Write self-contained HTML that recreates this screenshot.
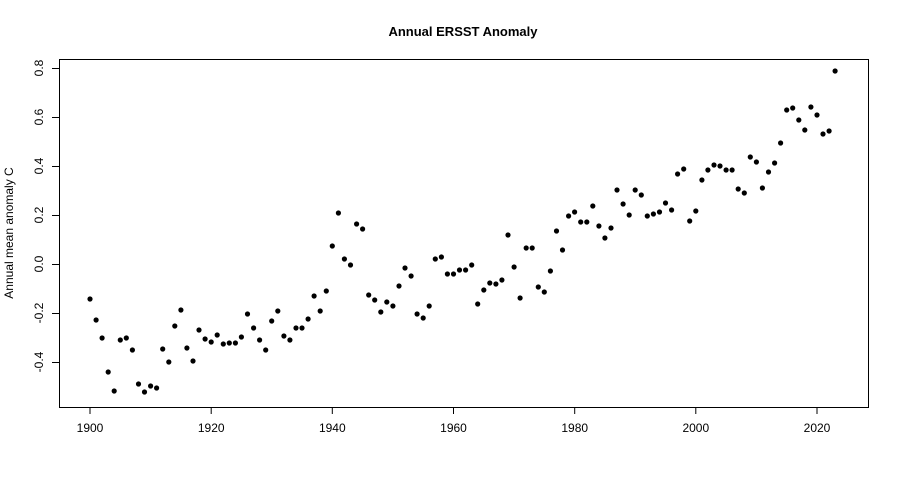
<!DOCTYPE html>
<html><head><meta charset="utf-8"><style>
html,body{margin:0;padding:0;background:#fff;}
svg{display:block;font-family:"Liberation Sans",Arial,sans-serif;}
</style></head><body>
<svg id="s" width="900" height="480" viewBox="0 0 900 480" xmlns="http://www.w3.org/2000/svg">
<rect width="900" height="480" fill="#fff"/>
<text x="463" y="36" font-size="13" font-weight="bold" text-anchor="middle">Annual ERSST Anomaly</text>
<rect x="59.5" y="59.5" width="809" height="348" fill="none" stroke="#000" stroke-width="1"/>
<g stroke="#000" stroke-width="1">
<line x1="90" y1="407.5" x2="817" y2="407.5"/>
<line x1="90" y1="407" x2="90" y2="414"/>
<line x1="211.2" y1="407" x2="211.2" y2="414"/>
<line x1="332.3" y1="407" x2="332.3" y2="414"/>
<line x1="453.5" y1="407" x2="453.5" y2="414"/>
<line x1="574.7" y1="407" x2="574.7" y2="414"/>
<line x1="695.8" y1="407" x2="695.8" y2="414"/>
<line x1="817" y1="407" x2="817" y2="414"/>
<line x1="59.5" y1="68" x2="59.5" y2="362"/>
<line x1="52" y1="68.5" x2="59" y2="68.5"/>
<line x1="52" y1="117.5" x2="59" y2="117.5"/>
<line x1="52" y1="166.5" x2="59" y2="166.5"/>
<line x1="52" y1="215.5" x2="59" y2="215.5"/>
<line x1="52" y1="264.5" x2="59" y2="264.5"/>
<line x1="52" y1="313.5" x2="59" y2="313.5"/>
<line x1="52" y1="362.5" x2="59" y2="362.5"/>
</g>
<g font-size="12" text-anchor="middle">
<text x="90" y="432">1900</text><text x="211.2" y="432">1920</text><text x="332.3" y="432">1940</text>
<text x="453.5" y="432">1960</text><text x="574.7" y="432">1980</text><text x="695.8" y="432">2000</text><text x="817" y="432">2020</text>
<text transform="translate(43,68) rotate(-90)">0.8</text>
<text transform="translate(43,117) rotate(-90)">0.6</text>
<text transform="translate(43,166) rotate(-90)">0.4</text>
<text transform="translate(43,215) rotate(-90)">0.2</text>
<text transform="translate(43,264) rotate(-90)">0.0</text>
<text transform="translate(43,313) rotate(-90)">-0.2</text>
<text transform="translate(43,362) rotate(-90)">-0.4</text>
<text transform="translate(13,233) rotate(-90)">Annual mean anomaly C</text>
</g>
<g id="pts" fill="#000"></g>
</svg>
<script>
var ys=[299,320,338,372,391,340,338,350,384,392,386,388,349,362,326,310,348,361,330,339,342,335,344,343,343,337,314,328,340,350,321,311,336,340,328,328,319,296,311,291,246,213,259,265,224,229,295,300,312,302,306,286,268,276,314,318,306,259,257,274,274,270,270,265,304,290,283,284,280,235,267,298,248,248,287,292,271,231,250,216,212,222,222,206,226,238,228,190,204,215,190,195,216,214,212,203,210,174,169,221,211,180,170,165,166,170,170,189,193,157,162,188,172,163,143,110,108,120,130,107,115,134,131,71];
var g=document.getElementById('pts'),h='';
for(var i=0;i<ys.length;i++){h+='<circle cx="'+(90+i*6.058).toFixed(1)+'" cy="'+ys[i]+'" r="2.6"/>';}
g.innerHTML=h;
</script>
</body></html>
